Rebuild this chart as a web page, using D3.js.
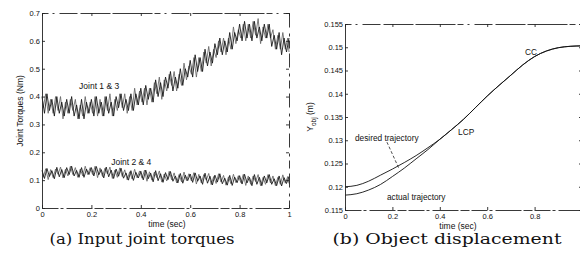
<!DOCTYPE html>
<html>
<head>
<meta charset="utf-8">
<script src="https://cdn.jsdelivr.net/npm/d3@7"></script>
<style>
  body { margin: 0; background: #fff; }
  svg { display: block; }
  .tick text { font-family: "Liberation Sans", Arial, sans-serif; font-size: 7.5px; fill: #111; }
  .lbl { font-family: "Liberation Sans", Arial, sans-serif; fill: #111; }
  .cap { font-family: "DejaVu Serif", serif; font-size: 14px; fill: #111; }
</style>
</head>
<body>
<svg id="chart" width="580" height="258"></svg>
<script>
// sampled every 0.01 s (second joint of each pair logged half a step later)
const sampleStep = 0.01;
const sampleOffset = [0, 0.5];

const joint13a = [0.40,0.34,0.41,0.35,0.39,0.33,0.40,0.34,0.38,0.33,0.39,0.34,0.40,0.33,0.37,0.32,0.39,0.32,0.38,0.34,
  0.39,0.33,0.40,0.34,0.38,0.33,0.40,0.34,0.38,0.33,0.40,0.36,0.41,0.35,0.39,0.35,0.41,0.35,0.41,0.37,
  0.43,0.37,0.44,0.39,0.43,0.38,0.46,0.40,0.45,0.40,0.47,0.43,0.49,0.42,0.47,0.43,0.50,0.44,0.50,0.47,
  0.53,0.47,0.55,0.49,0.54,0.49,0.57,0.51,0.56,0.52,0.59,0.55,0.61,0.55,0.60,0.56,0.63,0.57,0.63,0.60,
  0.66,0.60,0.67,0.61,0.66,0.60,0.67,0.61,0.65,0.60,0.66,0.61,0.66,0.58,0.62,0.57,0.63,0.55,0.61,0.56,0.61];
const joint13b = [0.36,0.41,0.34,0.39,0.34,0.40,0.35,0.40,0.32,0.38,0.34,0.39,0.35,0.39,0.32,0.37,0.33,0.40,0.34,0.38,
  0.34,0.40,0.33,0.39,0.33,0.40,0.35,0.41,0.33,0.39,0.35,0.41,0.36,0.41,0.34,0.40,0.35,0.43,0.37,0.42,
  0.38,0.43,0.37,0.43,0.38,0.45,0.41,0.47,0.39,0.46,0.42,0.48,0.44,0.49,0.42,0.48,0.44,0.52,0.46,0.51,
  0.48,0.54,0.47,0.54,0.49,0.56,0.52,0.58,0.51,0.57,0.54,0.60,0.56,0.61,0.55,0.61,0.57,0.65,0.59,0.64,
  0.61,0.66,0.60,0.66,0.61,0.67,0.62,0.68,0.59,0.65,0.61,0.66,0.61,0.64,0.57,0.62,0.57,0.63,0.57,0.61,0.56];
const joint24a = [0.135,0.106,0.142,0.113,0.134,0.105,0.146,0.112,0.138,0.109,0.145,0.120,0.150,0.115,0.135,0.110,0.145,0.110,0.140,0.120,
  0.145,0.115,0.149,0.119,0.138,0.108,0.147,0.112,0.136,0.106,0.140,0.114,0.143,0.107,0.126,0.100,0.134,0.099,0.128,0.108,
  0.132,0.101,0.136,0.105,0.125,0.094,0.134,0.098,0.123,0.092,0.127,0.102,0.131,0.096,0.115,0.090,0.124,0.089,0.118,0.098,
  0.122,0.092,0.126,0.096,0.115,0.085,0.125,0.089,0.114,0.083,0.118,0.093,0.123,0.087,0.107,0.082,0.117,0.081,0.111,0.091,
  0.116,0.086,0.121,0.090,0.110,0.080,0.120,0.085,0.110,0.080,0.115,0.090,0.120,0.085,0.105,0.080,0.115,0.079,0.109,0.088,0.113];
const joint24b = [0.110,0.141,0.102,0.138,0.109,0.140,0.121,0.147,0.108,0.139,0.115,0.150,0.120,0.145,0.110,0.140,0.115,0.150,0.120,0.145,
  0.120,0.150,0.109,0.144,0.113,0.143,0.122,0.147,0.106,0.136,0.110,0.144,0.113,0.137,0.101,0.130,0.104,0.139,0.108,0.133,
  0.107,0.136,0.096,0.130,0.100,0.129,0.109,0.133,0.093,0.122,0.097,0.132,0.101,0.126,0.090,0.120,0.094,0.129,0.098,0.123,
  0.097,0.127,0.086,0.121,0.090,0.120,0.100,0.124,0.084,0.113,0.088,0.123,0.093,0.117,0.082,0.112,0.087,0.121,0.091,0.116,
  0.091,0.121,0.081,0.115,0.085,0.115,0.095,0.120,0.080,0.110,0.085,0.120,0.090,0.115,0.080,0.110,0.085,0.119,0.089,0.113,0.088];

// object displacement, every 0.05 s
const trajTime = [0,0.05,0.1,0.15,0.2,0.25,0.3,0.35,0.4,0.45,0.5,0.55,0.6,0.65,0.7,0.75,0.8,0.85,0.9,0.95,1];
const desiredY = [0.1200,0.1203,0.1212,0.1225,0.1238,0.1252,0.1267,0.1284,0.1302,0.1323,0.1345,0.1370,0.1395,0.1418,0.1440,0.1462,0.1480,0.1492,0.1499,0.1502,0.1503];
const actualY  = [0.1182,0.1185,0.1193,0.1205,0.1222,0.1240,0.1260,0.1280,0.1302,0.1323,0.1345,0.1370,0.1395,0.1418,0.1440,0.1462,0.1480,0.1492,0.1499,0.1502,0.1503];

const xTicksA = [0,0.2,0.4,0.6,0.8,1];
const yTicksA = [0,0.1,0.2,0.3,0.4,0.5,0.6,0.7];
const xTicksB = [0,0.2,0.4,0.6,0.8];
const yTicksB = [0.115,0.12,0.125,0.13,0.135,0.14,0.145,0.15,0.155];

const notesA = [{text:"Joint 1 & 3", t:0.15, v:0.427}, {text:"Joint 2 & 4", t:0.28, v:0.154}];
const notesB = [{text:"CC", t:0.76, v:0.1483}, {text:"LCP", t:0.477, v:0.1311},
  {text:"desired trajectory", t:0.042, v:0.1299}, {text:"actual trajectory", t:0.177, v:0.1172}];
const leaderB = [[0.177, 0.1296], [0.226, 0.1241]];

const svg = d3.select("#chart");
svg.append("rect").attr("width", 580).attr("height", 258).attr("fill", "#fff");

const fmt = d => String(+d.toFixed(3));

function frame(x, y, xTicks, yTicks, xLabelX) {
    const [x0, x1] = x.range();
    const [y0, y1] = y.range();
    svg.append("g").attr("transform", `translate(0,${y0})`)
        .call(d3.axisBottom(x).tickValues(xTicks).tickFormat(fmt).tickSize(-3).tickSizeOuter(0).tickPadding(4))
        .call(g => g.select(".domain").attr("stroke-dasharray", "16,2,3,3,26,2,9,2"));
    svg.append("g").attr("transform", `translate(${x0},0)`)
        .call(d3.axisLeft(y).tickValues(yTicks).tickFormat(fmt).tickSize(-3).tickSizeOuter(0).tickPadding(2));
    svg.append("g").attr("transform", `translate(0,${y1})`)
        .call(d3.axisTop(x).tickValues(xTicks).tickFormat("").tickSize(-3).tickSizeOuter(0))
        .call(g => g.select(".domain").attr("stroke-dasharray", "6,4,2,5,18,3,30,2,40,2"));
    svg.append("g").attr("transform", `translate(${x1},0)`)
        .call(d3.axisRight(y).tickValues(yTicks).tickFormat("").tickSize(-3).tickSizeOuter(0))
        .call(g => g.select(".domain").attr("stroke-dasharray", "8,4,3,6,14,5"));
    svg.selectAll(".domain, .tick line").attr("stroke", "#222").attr("stroke-width", 0.9);
    svg.append("text").attr("class", "lbl").attr("x", xLabelX).attr("y", y0 + 19)
        .attr("text-anchor", "middle").attr("font-size", 8.5).text("time (sec)");
}

// (a) joint torques
const xA = d3.scaleLinear().domain([0, 1]).range([42, 289]);
const yA = d3.scaleLinear().domain([0, 0.7]).range([208, 13]);
const lineA = k => d3.line()
    .x((d, i) => xA(Math.min(1, (i + sampleOffset[k]) * sampleStep)))
    .y(d => yA(d));
[[joint13b, 1, "#666"], [joint24b, 1, "#666"], [joint13a, 0, "#111"], [joint24a, 0, "#111"]].forEach(([s, k, c]) => {
    svg.append("path").datum(s).attr("d", lineA(k)).attr("fill", "none")
        .attr("stroke", c).attr("stroke-width", 0.85);
});
frame(xA, yA, xTicksA, yTicksA, 167);
svg.append("text").attr("class", "lbl").attr("font-size", 8.5)
    .attr("transform", "translate(23,111) rotate(-90)").attr("text-anchor", "middle")
    .text("Joint Torques (Nm)");
svg.selectAll(null).data(notesA).enter().append("text").attr("class", "lbl")
    .attr("font-size", 8.5).attr("x", d => xA(d.t)).attr("y", d => yA(d.v)).text(d => d.text);

// (b) object displacement
const xB = d3.scaleLinear().domain([0, 1]).range([345, 582]);
const yB = d3.scaleLinear().domain([0.115, 0.155]).range([210, 24]);
const lineB = d3.line().x((d, i) => xB(trajTime[i])).y(d => yB(d)).curve(d3.curveMonotoneX);
[desiredY, actualY].forEach(s => {
    svg.append("path").datum(s).attr("d", lineB).attr("fill", "none")
        .attr("stroke", "#111").attr("stroke-width", 0.9);
});
frame(xB, yB, xTicksB, yTicksB, 458);
const yl = svg.append("text").attr("class", "lbl").attr("font-size", 8.5)
    .attr("transform", "translate(313,117) rotate(-90)").attr("text-anchor", "middle");
yl.append("tspan").text("Y");
yl.append("tspan").attr("font-size", 6.5).attr("dy", 2.5).text("obj");
yl.append("tspan").attr("dy", -2.5).text(" (m)");
svg.selectAll(null).data(notesB).enter().append("text").attr("class", "lbl")
    .attr("font-size", 8.3).attr("x", d => xB(d.t)).attr("y", d => yB(d.v)).text(d => d.text);
svg.append("path").datum(leaderB)
    .attr("d", d3.line().x(d => xB(d[0])).y(d => yB(d[1])))
    .attr("stroke", "#222").attr("stroke-width", 0.8).attr("stroke-dasharray", "3,2");

// captions
svg.append("text").attr("class", "cap").attr("x", 142).attr("y", 244).attr("text-anchor", "middle")
    .attr("textLength", 185).attr("lengthAdjust", "spacingAndGlyphs").text("(a) Input joint torques");
svg.append("text").attr("class", "cap").attr("x", 447).attr("y", 244).attr("text-anchor", "middle")
    .attr("textLength", 229).attr("lengthAdjust", "spacingAndGlyphs").text("(b) Object displacement");
</script>
</body>
</html>
